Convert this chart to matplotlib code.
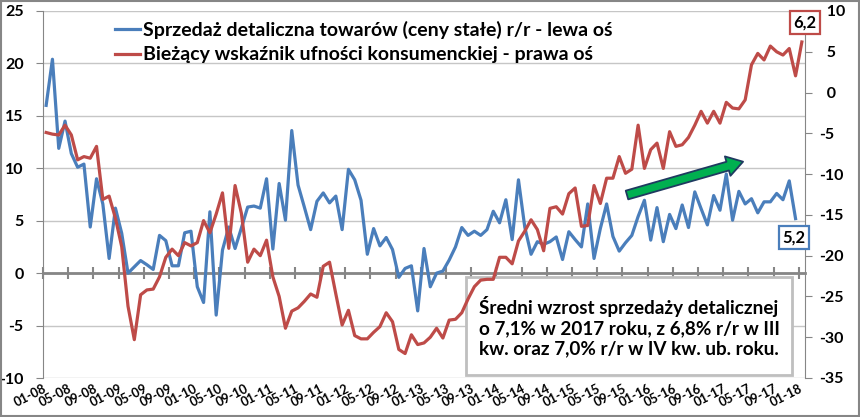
import matplotlib
matplotlib.use('Agg')
import matplotlib.pyplot as plt
from matplotlib.patches import Rectangle
from matplotlib.ticker import FuncFormatter

plt.rcParams['font.family'] = ['Lato', 'DejaVu Sans']
plt.rcParams['font.weight'] = 'bold'

# --- data (Jan 2008 ... ) ---
retail_sales = [
    16.0, 20.4, 11.9, 14.5, 11.4, 10.1, 10.4, 4.4, 9.0, 6.6, 1.4, 6.2,
    3.8, 0.0, 0.6, 1.2, 0.8, 0.35, 3.6, 3.1, 0.7, 0.7, 3.85, 4.0,
    -1.3, -2.8, 5.85, -4.0, 2.2, 4.4, 2.35, 4.3, 6.3, 6.4, 6.2, 9.0,
    2.3, 8.55, 5.05, 13.6, 8.4, 6.3, 4.15, 6.85, 7.65, 6.7, 7.35, 4.15,
    9.9, 8.9, 6.95, 1.8, 4.25, 2.6, 3.4, 2.25, -0.4, 0.45, 0.7, -3.6,
    2.35, -1.3, 0.0, 0.2, 1.25, 2.5, 4.35, 3.6, 4.0, 3.6, 4.15, 5.9,
    4.8, 7.0, 3.2, 8.9, 4.4, 1.8, 3.0, 2.75, 3.0, 3.45, 1.3, 3.95,
    3.2, 2.5, 6.6, 1.4, 4.25, 6.6, 3.5, 2.1, 2.9, 3.6, 5.4, 6.95,
    3.15, 6.25, 3.0, 5.6, 4.25, 6.5, 4.35, 7.75, 6.15, 4.6, 7.4, 6.0,
    9.45, 5.05, 7.8, 6.6, 7.1, 5.75, 6.8, 6.8, 7.6, 7.0, 8.8, 5.2,
]
consumer_conf = [
    -4.9, -5.1, -5.2, -4.0, -5.2, -8.25, -7.85, -8.05, -6.6, -13.1, -12.7, -15.4,
    -18.9, -26.2, -30.3, -24.8, -24.2, -24.1, -22.6, -20.2, -19.2, -20.0, -18.4, -18.8,
    -18.4, -15.7, -17.2, -14.9, -12.3, -19.1, -11.4, -14.8, -20.8, -19.2, -20.0, -18.1,
    -22.6, -25.0, -28.9, -26.8, -26.4, -25.6, -24.7, -25.1, -21.3, -20.8, -24.7, -28.5,
    -26.7, -29.8, -30.2, -30.2, -29.4, -28.7, -27.0, -28.1, -31.5, -32.0, -29.7, -30.9,
    -30.7, -30.0, -28.9, -30.1, -27.9, -27.8, -27.0, -25.3, -23.8, -23.0, -22.9, -22.9,
    -20.2, -20.2, -21.0, -18.2, -17.0, -15.6, -16.8, -19.4, -14.2, -14.0, -14.9, -12.4,
    -11.7, -16.4, -16.3, -11.4, -13.6, -10.5, -10.5, -7.85, -9.9, -9.4, -4.0, -9.3,
    -7.0, -6.2, -9.3, -4.8, -6.6, -6.4, -5.5, -4.0, -2.3, -3.75, -2.3, -3.75,
    -1.2, -1.9, -2.0, -0.9, 3.4, 4.8, 4.0, 5.7, 5.0, 4.6, 5.4, 2.05,
    6.2,
]
tick_labels = [
    '01-08', '05-08', '09-08', '01-09', '05-09', '09-09', '01-10', '05-10',
    '09-10', '01-11', '05-11', '09-11', '01-12', '05-12', '09-12', '01-13',
    '05-13', '09-13', '01-14', '05-14', '09-14', '01-15', '05-15', '09-15',
    '01-16', '05-16', '09-16', '01-17', '05-17', '09-17', '01-18',
]
legend_labels = [
    'Sprzedaż detaliczna towarów (ceny stałe) r/r - lewa oś',
    'Bieżący wskaźnik ufności konsumenckiej - prawa oś',
]
note_text = ('Średni wzrost sprzedaży detalicznej\n'
             'o 7,1% w 2017 roku, z 6,8% r/r w III\n'
             'kw. oraz 7,0% r/r w IV kw. ub. roku.')

BLUE = '#4a7ebb'
RED = '#be4b48'
GRID = '#c6c6c6'
AXIS = '#868686'

W, H = 860, 417
fig = plt.figure(figsize=(W / 100, H / 100), dpi=100)
ax = fig.add_axes([43 / W, 39 / H, 762 / W, 367 / H])
ax2 = ax.twinx()

n_cat = len(tick_labels) * 4 - 3  # 121 monthly categories
l1, = ax.plot(range(len(retail_sales)), retail_sales, color=BLUE, lw=2.3,
              solid_joinstyle='round', zorder=2)
l2, = ax2.plot(range(len(consumer_conf)), consumer_conf, color=RED, lw=2.3,
               solid_joinstyle='round', zorder=2)

ax.set_xlim(-0.5, n_cat - 0.5)
ax.set_ylim(-10, 25)
ax2.set_ylim(-35, 10)
ax.set_yticks(range(-10, 26, 5))
ax2.set_yticks(range(-35, 11, 5))

fmt_left = FuncFormatter(lambda v, p: f'{int(round(v))}')
fmt_right = FuncFormatter(lambda v, p: (f'{int(round(v))}' if v < 0 else f'  {int(round(v))}'))
ax.yaxis.set_major_formatter(fmt_left)
ax2.yaxis.set_major_formatter(fmt_right)

ax.yaxis.grid(True, color=GRID, lw=1)
ax.set_axisbelow(True)

tick_pos = [4 * k - 0.5 for k in range(len(tick_labels))]
ax.set_xticks(tick_pos)
ax.set_xticklabels(tick_labels, rotation=27, ha='right', rotation_mode='anchor',
                   fontsize=9.2, fontweight='bold')
ax.tick_params(axis='x', length=0, pad=3)
ax.tick_params(axis='y', direction='out', length=5, color=AXIS, labelsize=11.5, pad=9)
ax2.tick_params(axis='y', direction='out', length=5, color=AXIS, labelsize=11.5, pad=5)

for s in ['top', 'bottom', 'right']:
    ax.spines[s].set_visible(False)
for s in ['top', 'bottom', 'left']:
    ax2.spines[s].set_visible(False)
ax.spines['left'].set_color(AXIS)
ax2.spines['right'].set_color(AXIS)

# zero line axis with cross tick marks
sec = ax.secondary_xaxis(10 / 35)
sec.set_xticks(tick_pos)
sec.set_xticklabels([])
sec.tick_params(direction='inout', length=9, width=1.5, color=AXIS)
for s in sec.spines.values():
    s.set_color(AXIS)
    s.set_linewidth(2)
sec.set_zorder(1.8)

# legend
ax2.legend([l1, l2], legend_labels, loc='upper left',
           bbox_to_anchor=((115 - 43) / 762, (378 - 21) / 367),
           frameon=False, fontsize=14, handlelength=1.3, handletextpad=0.15,
           labelspacing=0.38, borderpad=0, borderaxespad=0)

# note box
ax.add_patch(Rectangle((0.555, 0.008), 0.428, 0.267, transform=ax.transAxes,
                       fc='white', ec='#bfbfbf', lw=2, zorder=3))
ax.text(0.769, 0.139, note_text, transform=ax.transAxes, ha='center', va='center',
        fontsize=13.6, linespacing=1.22, zorder=4)

# end-value labels
ax2.annotate(f'{consumer_conf[-1]:.1f}'.replace('.', ','),
             xy=(len(consumer_conf) - 1, consumer_conf[-1]),
             xytext=(2, 14), textcoords='offset points', ha='center', va='center',
             fontsize=12, zorder=6,
             bbox=dict(boxstyle='square,pad=0.2', fc='white', ec=RED, lw=1.6))
ax2.annotate(f'{retail_sales[-1]:.1f}'.replace('.', ','),
             xy=(len(retail_sales) - 1, retail_sales[-1] * 45 / 35 - 35 + 10 * 45 / 35),
             xytext=(-1, -13.5), textcoords='offset points', ha='center', va='center',
             fontsize=12, zorder=6,
             bbox=dict(boxstyle='square,pad=0.2', fc='white', ec=BLUE, lw=1.6))

# green trend arrow
ax2.annotate('', xy=(0.9187, 0.5894), xytext=(0.7664, 0.4986),
             xycoords='axes fraction', textcoords='axes fraction', zorder=7,
             arrowprops=dict(arrowstyle='simple,head_length=1.15,head_width=1.45,tail_width=0.65',
                             fc='#00b050', ec='#1f3a60', lw=1.3, shrinkA=0, shrinkB=0,
                             mutation_scale=10))

fig.patches.append(Rectangle((0.001, 0.002), 0.998, 0.996, transform=fig.transFigure,
                             fill=False, ec=AXIS, lw=1.5))

fig.savefig('out.png', dpi=100)
